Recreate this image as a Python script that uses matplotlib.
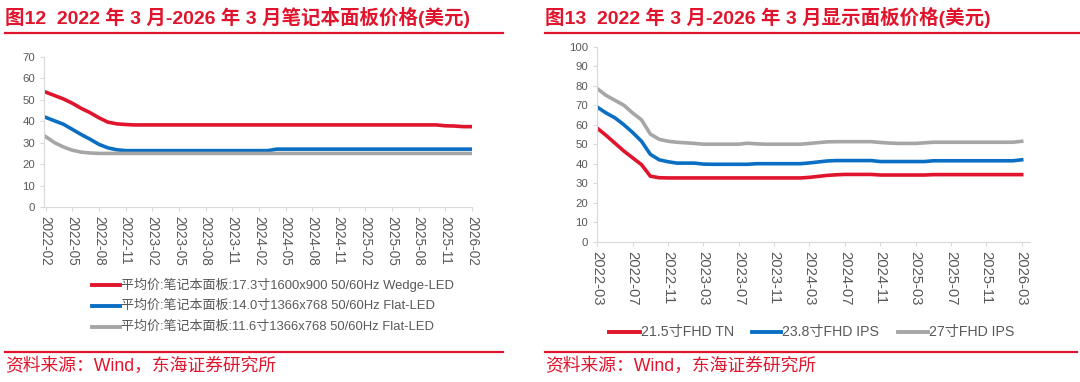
import matplotlib
matplotlib.use('Agg')
import numpy as np
import matplotlib.pyplot as plt
from matplotlib.lines import Line2D

plt.rcParams['font.family'] = ['Liberation Sans', 'Noto Sans CJK SC', 'DejaVu Sans']

RED = '#E0152D'
BLUE = '#0A6FC2'
GRAY = '#A6A6A6'
TXT = '#595959'
AX = '#D9D9D9'

# ── Left chart: notebook panels, monthly 2022-02 .. 2026-02 ─────────
nb_ticks = ['2022-02', '2022-05', '2022-08', '2022-11', '2023-02', '2023-05',
            '2023-08', '2023-11', '2024-02', '2024-05', '2024-08', '2024-11',
            '2025-02', '2025-05', '2025-08', '2025-11', '2026-02']
nb_173 = [53.6, 52.0, 50.4, 48.4, 46.0, 44.0, 41.6, 39.6, 38.8, 38.5,
          38.3, 38.3, 38.3, 38.3, 38.3, 38.3, 38.3, 38.3, 38.3, 38.3,
          38.3, 38.3, 38.3, 38.3, 38.3, 38.3, 38.3, 38.3, 38.3, 38.3,
          38.3, 38.3, 38.3, 38.3, 38.3, 38.3, 38.3, 38.3, 38.3, 38.3,
          38.3, 38.3, 38.3, 38.3, 38.3, 37.9, 37.8, 37.5, 37.5]
nb_140 = [41.8, 40.2, 38.6, 36.2, 33.8, 31.6, 29.2, 27.6, 26.7, 26.3,
          26.3, 26.3, 26.3, 26.3, 26.3, 26.3, 26.3, 26.3, 26.3, 26.3,
          26.3, 26.3, 26.3, 26.3, 26.3, 26.3, 27.0, 27.0, 27.0, 27.0,
          27.0, 27.0, 27.0, 27.0, 27.0, 27.0, 27.0, 27.0, 27.0, 27.0,
          27.0, 27.0, 27.0, 27.0, 27.0, 27.0, 27.0, 27.0, 27.0]
nb_116 = [32.8, 30.0, 28.0, 26.5, 25.6, 25.2, 25.0, 25.0, 25.0, 25.0,
          25.0, 25.0, 25.0, 25.0, 25.0, 25.0, 25.0, 25.0, 25.0, 25.0,
          25.0, 25.0, 25.0, 25.0, 25.0, 25.0, 25.0, 25.0, 25.0, 25.0,
          25.0, 25.0, 25.0, 25.0, 25.0, 25.0, 25.0, 25.0, 25.0, 25.0,
          25.0, 25.0, 25.0, 25.0, 25.0, 25.0, 25.0, 25.0, 25.0]
nb_labels = ['平均价:笔记本面板:17.3寸1600x900 50/60Hz Wedge-LED',
             '平均价:笔记本面板:14.0寸1366x768 50/60Hz Flat-LED',
             '平均价:笔记本面板:11.6寸1366x768 50/60Hz Flat-LED']

# ── Right chart: monitor panels, monthly 2022-03 .. 2026-03 ─────────
mn_ticks = ['2022-03', '2022-07', '2022-11', '2023-03', '2023-07', '2023-11',
            '2024-03', '2024-07', '2024-11', '2025-03', '2025-07', '2025-11',
            '2026-03']
mn_215 = [58.2, 54.5, 50.5, 46.5, 43.0, 39.5, 33.6, 32.8, 32.7, 32.7,
          32.7, 32.7, 32.7, 32.7, 32.7, 32.7, 32.7, 32.7, 32.7, 32.7,
          32.7, 32.7, 32.7, 32.7, 33.0, 33.5, 34.0, 34.3, 34.5, 34.5,
          34.5, 34.5, 34.2, 34.2, 34.2, 34.2, 34.2, 34.2, 34.4, 34.4,
          34.4, 34.4, 34.4, 34.4, 34.4, 34.4, 34.4, 34.4, 34.4]
mn_238 = [69.0, 66.0, 63.5, 60.0, 56.0, 51.5, 44.8, 42.0, 41.0, 40.3,
          40.3, 40.3, 39.8, 39.7, 39.7, 39.7, 39.7, 39.7, 40.0, 40.0,
          40.0, 40.0, 40.0, 40.0, 40.4, 40.9, 41.4, 41.6, 41.6, 41.6,
          41.6, 41.6, 41.1, 41.1, 41.1, 41.1, 41.1, 41.1, 41.5, 41.5,
          41.5, 41.5, 41.5, 41.5, 41.5, 41.5, 41.5, 41.5, 42.0]
mn_27 = [78.5, 75.0, 72.5, 70.0, 66.0, 62.5, 55.2, 52.5, 51.5, 51.0,
         50.7, 50.4, 50.0, 50.0, 50.0, 50.0, 50.0, 50.5, 50.2, 50.0,
         50.0, 50.0, 50.0, 50.0, 50.4, 50.8, 51.2, 51.3, 51.3, 51.3,
         51.3, 51.3, 50.9, 50.6, 50.4, 50.4, 50.4, 50.7, 51.0, 51.0,
         51.0, 51.0, 51.0, 51.0, 51.0, 51.0, 51.0, 51.0, 51.5]
mn_labels = ['21.5寸FHD TN', '23.8寸FHD IPS', '27寸FHD IPS']

colors = [RED, BLUE, GRAY]

W, H = 1080, 382
fig = plt.figure(figsize=(W / 100, H / 100), dpi=100)


def px(x0, y0, x1, y1):
    # pixel box (top-left origin) -> figure fraction rect
    return [x0 / W, 1 - y1 / H, (x1 - x0) / W, (y1 - y0) / H]


def hline(x0, x1, y, lw=1.6):
    fig.add_artist(Line2D([x0 / W, x1 / W], [1 - y / H, 1 - y / H],
                          color=RED, lw=lw, transform=fig.transFigure))


def style_axes(ax, xsize):
    for s in ['top', 'right']:
        ax.spines[s].set_visible(False)
    ax.spines['left'].set_color(AX)
    ax.spines['bottom'].set_color(AX)
    ax.tick_params(axis='both', colors=AX, labelcolor=TXT, labelsize=8.2,
                   length=3, width=0.8)
    ax.tick_params(axis='x', labelsize=xsize)


# ── Headers and footers ─────────────────────────────────────────────
fig.text(5 / W, 1 - 17 / H, '图12  2022 年 3 月-2026 年 3 月笔记本面板价格(美元)',
         color=RED, fontsize=14, fontweight='bold', va='center', ha='left')
fig.text(545 / W, 1 - 17 / H, '图13  2022 年 3 月-2026 年 3 月显示面板价格(美元)',
         color=RED, fontsize=14, fontweight='bold', va='center', ha='left')
hline(5, 503, 33)
hline(545, 1080, 33)
hline(5, 503, 352)
hline(545, 1077, 352)
fig.text(5 / W, 1 - 366 / H, '资料来源：Wind，东海证券研究所',
         color=RED, fontsize=12.8, va='center', ha='left')
fig.text(545 / W, 1 - 366 / H, '资料来源：Wind，东海证券研究所',
         color=RED, fontsize=12.8, va='center', ha='left')

# ── Left plot ───────────────────────────────────────────────────────
ax1 = fig.add_axes(px(44, 57, 472, 207))
x1 = np.arange(len(nb_173))
for vals, c in zip([nb_173, nb_140, nb_116], colors):
    ax1.plot(x1, vals, color=c, lw=2.6, solid_joinstyle='round')
ax1.set_xlim(-0.2, 48)
ax1.set_ylim(0, 70)
ax1.set_yticks(range(0, 71, 10))
ax1.set_xticks(np.arange(0, 49, 3))
ax1.set_xticklabels(nb_ticks, rotation=-90)
style_axes(ax1, 9.8)

for i, (lab, c) in enumerate(zip(nb_labels, colors)):
    y = 1 - (284.5 + i * 21.2) / H
    fig.add_artist(Line2D([92 / W, 120 / W], [y, y], color=c, lw=2.8,
                          transform=fig.transFigure))
    fig.text(121 / W, y, lab, color=TXT, fontsize=9.4, va='center', ha='left')

# ── Right plot ──────────────────────────────────────────────────────
ax2 = fig.add_axes(px(597.3, 46.7, 1030, 241.7))
x2 = np.arange(len(mn_215))
for vals, c in zip([mn_215, mn_238, mn_27], colors):
    ax2.plot(x2, vals, color=c, lw=2.6, solid_joinstyle='round')
ax2.set_xlim(0, 48.94)
ax2.set_ylim(0, 100)
ax2.set_yticks(range(0, 101, 10))
ax2.set_xticks(np.arange(0, 49, 4))
ax2.set_xticklabels(mn_ticks, rotation=-90)
style_axes(ax2, 10.6)

leg_x = [(609, 640), (752, 781), (898, 928)]
for (a, b), lab, c in zip(leg_x, mn_labels, colors):
    y = 1 - 332 / H
    fig.add_artist(Line2D([a / W, b / W], [y, y], color=c, lw=2.8,
                          transform=fig.transFigure))
    fig.text((b + 1) / W, y, lab, color=TXT, fontsize=10.2, va='center', ha='left')

fig.savefig('out.png', dpi=100)
